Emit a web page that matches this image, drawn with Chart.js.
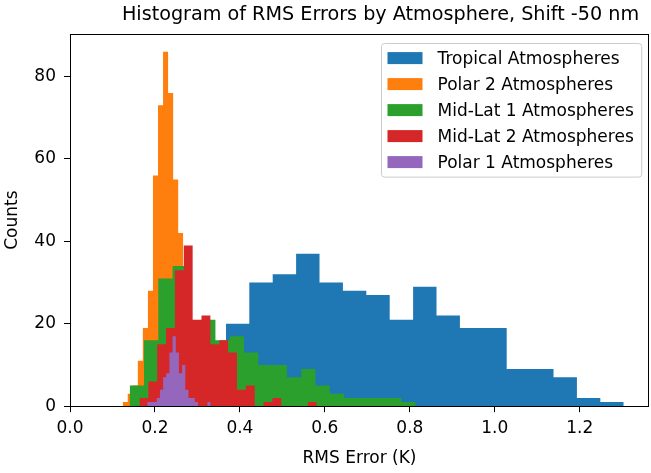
<!DOCTYPE html>
<html>
<head>
<meta charset="utf-8">
<title>RMS error histogram</title>
<script src="https://cdn.jsdelivr.net/npm/chart.js@4.4.1/dist/chart.umd.min.js"></script>
<style>
    body { margin: 0; background: #fff; }
    #wrap { width: 651px; height: 473px; }
</style>
</head>
<body>
<div id="wrap"><canvas id="hist_chart" width="651" height="473"></canvas></div>
<script>
// counts per bin, bins are equal width between the two range ends
const tropicalCounts = [20, 30, 32, 37, 30, 28, 27, 21, 29, 22, 19, 19, 9, 9, 7, 2, 1];
const tropicalRange = [0.367, 1.3035];
const polar2Counts = [1, 3, 5, 11, 19, 28, 56, 73, 86, 76, 55, 42];
const polar2Range = [0.124, 0.2666];
const midlat1Counts = [5, 16, 31, 34, 20, 21, 16, 17, 13, 10, 10, 7, 9, 5, 3, 2, 2, 2, 2, 1];
const midlat1Range = [0.1405, 0.8134];
const midlat2Counts = [2, 6, 15, 19, 33, 39, 21, 22, 15, 16, 13, 4, 5, 0, 1, 2, 0, 0, 0, 1];
const midlat2Range = [0.1635, 0.5809];
const polar1Counts = [1, 1, 1, 2, 4, 7, 8, 13, 17, 13, 8, 10, 4, 2, 2, 1, 0, 0, 0, 1];
const polar1Range = [0.1819, 0.331];

const seriesNames = ["Tropical Atmospheres", "Polar 2 Atmospheres", "Mid-Lat 1 Atmospheres", "Mid-Lat 2 Atmospheres", "Polar 1 Atmospheres"];
const seriesColors = ["#1f77b4", "#ff7f0e", "#2ca02c", "#d62728", "#9467bd"];

const xTickValues = [0, 0.2, 0.4, 0.6, 0.8, 1.0, 1.2];
const xTickLabels = ["0.0", "0.2", "0.4", "0.6", "0.8", "1.0", "1.2"];
const yTickValues = [0, 20, 40, 60, 80];
const xMax = 1.363;
const yMax = 90.3;
const chartTitle = "Histogram of RMS Errors by Atmosphere, Shift -50 nm";

Chart.defaults.font.family = "'DejaVu Sans', sans-serif";
Chart.defaults.font.size = 17;
Chart.defaults.color = "#000";

// turn bin counts into the outline of a step histogram
function histPoints(counts, range){
    let pts = [];
    let w = (range[1] - range[0]) / counts.length;
    pts.push({x: range[0], y: 0});
    for(let i = 0; i < counts.length; i++){
        pts.push({x: range[0] + i * w, y: counts[i]});
        pts.push({x: range[0] + (i + 1) * w, y: counts[i]});
    }
    pts.push({x: range[1], y: 0});
    return pts;
}

const allCounts = [tropicalCounts, polar2Counts, midlat1Counts, midlat2Counts, polar1Counts];
const allRanges = [tropicalRange, polar2Range, midlat1Range, midlat2Range, polar1Range];

let datasets = [];
for(let s = 0; s < seriesNames.length; s++){
    datasets.push({
        label: seriesNames[s],
        data: histPoints(allCounts[s], allRanges[s]),
        backgroundColor: seriesColors[s],
        borderWidth: 0,
        pointRadius: 0,
        tension: 0,
        fill: 'origin',
        // first series at the bottom, last one on top
        order: seriesNames.length - 1 - s
    });
}

// box around the plot area
const frame = {
    id: 'frame',
    afterDatasetsDraw(chart){
        const a = chart.chartArea;
        const ctx = chart.ctx;
        ctx.save();
        ctx.strokeStyle = "#000";
        ctx.lineWidth = 1;
        ctx.strokeRect(Math.round(a.left) + 0.5, Math.round(a.top) + 0.5,
            Math.round(a.right) - Math.round(a.left) - 1, Math.round(a.bottom) - Math.round(a.top));
        ctx.restore();
    }
};

// figure title, sits a bit right of the plot centre
const figTitle = {
    id: 'figTitle',
    afterDraw(chart){
        const ctx = chart.ctx;
        ctx.save();
        ctx.font = "19.2px 'DejaVu Sans'";
        ctx.fillStyle = "#000";
        ctx.textAlign = "center";
        ctx.textBaseline = "middle";
        ctx.fillText(chartTitle, chart.width * 0.5845, 15);
        ctx.restore();
    }
};

// legend box in the upper right corner of the plot
const boxLegend = {
    id: 'boxLegend',
    afterDatasetsDraw(chart){
        const ctx = chart.ctx;
        const a = chart.chartArea;
        const sets = chart.data.datasets;
        ctx.save();
        ctx.font = "17px 'DejaVu Sans'";
        let textW = 0;
        sets.forEach((d) => { textW = Math.max(textW, ctx.measureText(d.label).width); });
        const rowH = 26;
        const w = 56 + textW + 8;
        const h = 14.6 + rowH * (sets.length - 1) + 15;
        const left = Math.round(a.right - 8 - w) + 0.5;
        const top = Math.round(a.top + 8.7) + 0.5;

        ctx.beginPath();
        ctx.roundRect(left, top, w, h, 3);
        ctx.fillStyle = "rgba(255,255,255,0.8)";
        ctx.fill();
        ctx.strokeStyle = "#cccccc";
        ctx.lineWidth = 1;
        ctx.stroke();

        ctx.textBaseline = "middle";
        ctx.textAlign = "left";
        sets.forEach((d, i) => {
            let cy = top + 14.6 + i * rowH;
            ctx.fillStyle = d.backgroundColor;
            ctx.fillRect(left + 6, cy - 6, 35, 12);
            ctx.fillStyle = "#000";
            ctx.fillText(d.label, left + 56, cy + 1);
        });
        ctx.restore();
    }
};

let chart1 = new Chart(document.querySelector('#hist_chart'), {
    type: 'line',
    data: { datasets: datasets },
    options: {
        responsive: false,
        animation: false,
        events: [],
        layout: { padding: { left: 0, right: 2, top: 34, bottom: 0 } },
        plugins: {
            legend: { display: false },
            tooltip: { enabled: false },
            title: { display: false }
        },
        scales: {
            x: {
                type: 'linear',
                min: 0,
                max: xMax,
                border: { display: false },
                grid: { drawOnChartArea: false, drawTicks: true, tickLength: 6, color: "#000" },
                afterBuildTicks: (axis) => { axis.ticks = xTickValues.map((v) => ({ value: v })); },
                ticks: {
                    padding: 6,
                    maxRotation: 0,
                    callback: (v, i) => xTickLabels[i]
                },
                title: { display: true, text: "RMS Error (K)", padding: { top: 4, bottom: 4 } }
            },
            y: {
                min: 0,
                max: yMax,
                border: { display: false },
                grid: { drawOnChartArea: false, drawTicks: true, tickLength: 6, color: "#000" },
                afterBuildTicks: (axis) => { axis.ticks = yTickValues.map((v) => ({ value: v })); },
                afterFit: (scale) => { scale.width = 70; },
                ticks: { padding: 8 },
                title: { display: true, text: "Counts", padding: { top: 2, bottom: 0 } }
            }
        }
    },
    plugins: [frame, boxLegend, figTitle]
});
</script>
</body>
</html>
